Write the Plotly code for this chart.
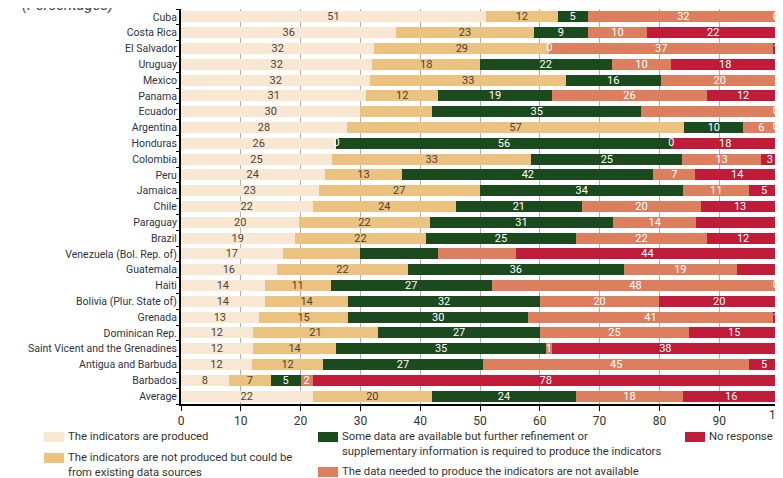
import plotly.graph_objects as go

countries = [
    "Cuba", "Costa Rica", "El Salvador", "Uruguay", "Mexico", "Panama", "Ecuador",
    "Argentina", "Honduras", "Colombia", "Peru", "Jamaica", "Chile", "Paraguay",
    "Brazil", "Venezuela (Bol. Rep. of)", "Guatemala", "Haiti",
    "Bolivia (Plur. State of)", "Grenada", "Dominican Rep.",
    "Saint Vicent and the Grenadines", "Antigua and Barbuda", "Barbados", "Average",
]

produced =      [51, 36, 32, 32, 32, 31, 30, 28, 26, 25, 24, 23, 22, 20, 19, 17, 16, 14, 14, 13, 12, 12, 12, 8, 22]
could_be =      [12, 23, 29, 18, 33, 12, 12, 57, 0, 33, 13, 27, 24, 22, 22, 13, 22, 11, 14, 15, 21, 14, 12, 7, 20]
refinement =    [5, 9, 0, 22, 16, 19, 35, 10, 56, 25, 42, 34, 21, 31, 25, 13, 36, 27, 32, 30, 27, 35, 27, 5, 24]
not_available = [32, 10, 37, 10, 20, 26, 23, 6, 0, 13, 7, 11, 20, 14, 22, 13, 19, 48, 20, 41, 25, 1, 45, 2, 18]
no_response =   [0, 22, 1, 18, 0, 12, 0, 0, 18, 3, 14, 5, 13, 14, 12, 44, 7, 0, 20, 1, 15, 38, 5, 78, 16]

# segments whose value is not printed in the original
hidden = {
    "could_be": ["Ecuador", "Venezuela (Bol. Rep. of)"],
    "refinement": ["Venezuela (Bol. Rep. of)"],
    "not_available": ["Ecuador", "Venezuela (Bol. Rep. of)"],
    "no_response": ["Mexico", "Guatemala"],
}

series = [
    ("produced", produced, "The indicators are produced", "#F8E7D3", "#4d4236"),
    ("could_be", could_be, "The indicators are not produced but could be<br>from existing data sources", "#EBC27F", "#4d4236"),
    ("refinement", refinement, "Some data are available but further refinement or<br>supplementary information is required to produce the indicators", "#1C4A1F", "white"),
    ("not_available", not_available, "The data needed to produce the indicators are not available", "#DD7F5F", "white"),
    ("no_response", no_response, "No response", "#C01B39", "white"),
]

# rounded shares do not always add up to 100; bars are drawn as true shares
row_totals = [sum(r) for r in zip(produced, could_be, refinement, not_available, no_response)]

FONT = "Roboto, Liberation Sans, sans-serif"

fig = go.Figure()
base = [0.0] * len(countries)
zero_x, zero_y = [], []
for key, vals, name, color, tcolor in series:
    labels = ["" if c in hidden.get(key, []) else str(v) for c, v in zip(countries, vals)]
    shares = [v * 100 / t for v, t in zip(vals, row_totals)]
    fig.add_trace(go.Bar(
        y=countries, x=shares, name=name, orientation="h",
        marker=dict(color=color, line=dict(width=0)),
        text=labels, textposition="inside", insidetextanchor="middle",
        textangle=0, constraintext="none", cliponaxis=False,
        textfont=dict(color=tcolor, size=11, family=FONT),
        showlegend=False,
    ))
    # zero-width segments still carry a "0" label in the original
    for i, v in enumerate(vals):
        if v == 0 and labels[i]:
            zero_x.append(round(base[i], 6))
            zero_y.append(countries[i])
    base = [b + s for b, s in zip(base, shares)]

# labels sitting on the right end of the bar are kept inside the plot
zero_pos = ["middle left" if x >= 99.9 else "middle center" for x in zero_x]
fig.add_trace(go.Scatter(
    x=zero_x, y=zero_y, mode="text", text=["0"] * len(zero_x),
    textposition=zero_pos, cliponaxis=False, showlegend=False,
    textfont=dict(color="white", size=11, family=FONT), hoverinfo="skip",
))

# the page body has an 8px margin, so the figure sits at (8, 8)
OFF = 8
W, H = 783 - OFF, 478 - OFF
L, R, T, B = 181 - OFF, 4, 9 - OFF, 74
pw, ph = W - L - R, H - T - B


def px(x):
    return (x - OFF - L) / pw


def py(y):
    return (H - B - (y - OFF)) / ph


# hand-made legend in three columns (page pixel positions)
legend_items = [
    (44, 437, series[0]),
    (44, 458, series[1]),
    (318, 437, series[2]),
    (318, 472, series[3]),
    (685, 437, series[4]),
]
shapes = []
annotations = []
for x0, y0, (_, _, name, color, _) in legend_items:
    shapes.append(dict(type="rect", xref="paper", yref="paper",
                       x0=px(x0), x1=px(x0 + 20), y0=py(y0 - 5), y1=py(y0 + 5),
                       fillcolor=color, line=dict(width=0)))
    annotations.append(dict(xref="paper", yref="paper", x=px(x0 + 23), y=py(y0 - 8),
                            xanchor="left", yanchor="top", align="left",
                            text=name, showarrow=False, borderpad=0,
                            font=dict(size=11.3, color="#333", family=FONT)))

annotations.append(dict(xref="paper", yref="paper", x=px(20), y=py(5),
                        xanchor="left", yanchor="middle", text="<i>(Percentages)</i>",
                        showarrow=False, font=dict(size=15, color="#444", family=FONT)))

# last tick label runs off the page edge in the original; plotly drops it
annotations.append(dict(xref="x", yref="paper", x=100, y=py(407),
                        xanchor="center", yanchor="top", text="100",
                        showarrow=False, borderpad=0,
                        font=dict(size=12, color="#333", family=FONT)))

fig.update_layout(
    barmode="stack", bargap=0.3,
    width=W, height=H,
    margin=dict(l=L, r=R, t=T, b=B, autoexpand=False),
    paper_bgcolor="white", plot_bgcolor="white",
    font=dict(family=FONT, color="#333"),
    shapes=shapes, annotations=annotations,
    xaxis=dict(range=[0, 100], dtick=10, showgrid=True, gridcolor="#b0b0b0", gridwidth=1,
               showline=True, linecolor="black", linewidth=2,
               ticks="outside", ticklen=5, tickcolor="black",
               tickfont=dict(size=12, color="#333"), zeroline=False, automargin=False),
    yaxis=dict(range=[len(countries) - 0.5, -0.5], showline=True, linecolor="black", linewidth=2,
               tickmode="array", tickvals=countries, automargin=False,
               ticks="outside", ticklen=3, tickcolor="black", tickson="boundaries",
               tickfont=dict(size=10.5, color="#2e3345"), showgrid=False),
)

fig.write_html("out.html")
